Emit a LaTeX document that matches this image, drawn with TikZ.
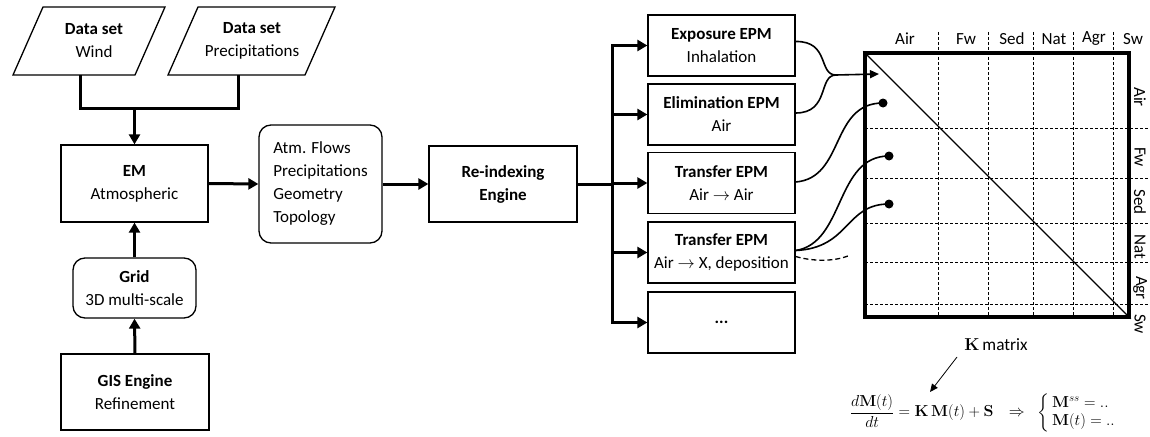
\documentclass[tikz,border=0pt]{standalone}
\usepackage{amsmath}
\usepackage[no-math]{fontspec}
\setmainfont{Carlito}
\usetikzlibrary{arrows.meta,calc}
\begin{document}
\begin{tikzpicture}[x=1pt,y=-1pt,
  every node/.style={font=\fontsize{17}{23}\selectfont, inner sep=0pt},
  box/.style={draw, line width=1.3pt, minimum width=147pt, minimum height=61pt, align=center},
  rbox/.style={box, rounded corners=12pt},
  flow/.style={line width=3pt, -{Triangle[length=10pt,width=11pt]}},
  bar/.style={line width=3pt},
  curv/.style={line width=1.6pt},
  gridline/.style={line width=0.6pt, dash pattern=on 3pt off 2pt},
  para/.style={line width=1.3pt, line join=miter},
]
\useasboundingbox (0,0) rectangle (1150,436);

% data sets
\node[align=center] (wind) at (94,41) {\textbf{Data set}\\Wind};
\draw[para] ($(wind.center)+(-81,34)$) -- ($(wind.center)+(41,34)$) -- ($(wind.center)+(71,-34)$) -- ($(wind.center)+(-51,-34)$) -- cycle;
\node[align=center] (prec) at (252,41) {\textbf{Data set}\\Precipitations};
\draw[para] ($(prec.center)+(-84,34)$) -- ($(prec.center)+(53,34)$) -- ($(prec.center)+(83,-34)$) -- ($(prec.center)+(-54,-34)$) -- cycle;

% left column
\node[box, minimum width=147pt, minimum height=77pt] (em) at (134.5,183.5) {\textbf{EM}\\Atmospheric};
\node[rbox, minimum width=123pt, minimum height=60pt] (grid) at (134.5,288) {\textbf{Grid}\\3D multi-scale};
\node[box, minimum width=148pt, minimum height=76pt] (gis) at (135,392) {\textbf{GIS Engine}\\Refinement};
\node[rbox, align=left, minimum width=123pt, minimum height=118pt] (atm) at (320.5,184) {Atm. Flows\\Precipitations\\Geometry\\Topology};
\node[box, minimum width=148pt, minimum height=76pt] (re) at (503,184) {\textbf{Re-indexing}\\\textbf{Engine}};

\coordinate (wb) at ($(wind.center)+(-14,34)$);
\coordinate (pb) at ($(prec.center)+(-14,34)$);
\coordinate (jn) at (em.north |- 0,108);
\draw[bar] (wb) -- (wb |- jn) -- (pb |- jn) -- (pb);
\draw[flow] (jn) -- (em.north);
\draw[flow] (gis.north) -- (grid.south);
\draw[flow] (grid.north) -- (em.south);
\draw[flow] (em.east) -- (atm.west);
\draw[flow] (atm.east) -- (re.west);

% EPM boxes
\node[box] (e1) at (721.5,45.5) {\textbf{Exposure EPM}\\Inhalation};
\node[box] (e2) at (721.5,114.5) {\textbf{Elimination EPM}\\Air};
\node[box] (e3) at (721.5,183) {\textbf{Transfer EPM}\\Air $\rightarrow$ Air};
\node[box] (e4) at (721.5,252.5) {\textbf{Transfer EPM}\\Air $\rightarrow$ X, deposition};
\node[box] (e5) at (721.5,322.5) {\textbf{...}};

\coordinate (tr) at (612,184);
\draw[bar] (re.east) -- (tr);
\draw[bar, line cap=rect] (tr |- e1.west) -- (tr |- e5.west);
\foreach \n in {e1,e2,e3,e4,e5} \draw[flow] (tr |- \n.west) -- (\n.west);

% matrix
\foreach \x in {938,988,1033,1073,1113} \draw[gridline] (\x,32) -- (\x,317);
\foreach \y in {128,178,223,262,304} \draw[gridline] (865,\y) -- (1150,\y);
\node[draw, line width=3.5pt, minimum width=264pt, minimum height=264pt] (K) at (997,185) {};
\draw[line width=1.2pt] (K.north west) -- (K.south east);
\foreach \t/\x [count=\i] in {Air/905,Fw/966,Sed/1012,Nat/1054,Agr/1094,Sw/1133}
  \node (c\i) at (\x,39) {\t};
\foreach \t/\y [count=\i] in {Air/97,Fw/157,Sed/202,Nat/247,Agr/288,Sw/324}
  \node[rotate=-90] (r\i) at (1140,\y) {\t};

% connectors to matrix
\coordinate (mg) at (836,75);
\coordinate (tip) at (879,74);
\coordinate (d1) at (883,103);
\coordinate (d2) at (889,156);
\coordinate (d3) at (889,204);
\coordinate (dend) at (848,256);
\draw[curv] ([yshift=4pt]e1.east) .. controls (830,41) and (818,75) .. (mg);
\draw[curv] ([yshift=1.5pt]e2.east) .. controls (830,113) and (818,75) .. (mg);
\draw[curv, -{Triangle[length=9pt,width=8pt]}] (mg) -- (tip);
\draw[curv] ([yshift=1pt]e3.east) .. controls (845,178) and (830,103) .. (d1);
\draw[curv] ([yshift=2pt]e4.east) .. controls (845,243) and (835,156) .. (d2);
\draw[curv] ([yshift=2pt]e4.east) .. controls (850,248) and (845,204) .. (d3);
\draw[line width=1.3pt, dash pattern=on 5pt off 3pt] ([yshift=-4pt]e4.east) .. controls (815,262) and (835,261) .. (dend);
\foreach \d in {d1,d2,d3} \fill (\d) circle (4.5pt);

% K matrix label and equation
\node (kl) at (996,345) {\fontsize{17.28}{22}\selectfont$\mathbf{K}$\,matrix};
\coordinate (ks) at (957,357);
\coordinate (kt) at (930,392);
\node[scale=0.92, transform shape] (eq) at (983,413) {\fontsize{17.28}{20}\selectfont $\dfrac{d\mathbf{M}(t)}{dt} = \mathbf{K}\,\mathbf{M}(t) + \mathbf{S} \hspace{12pt}\Rightarrow\hspace{9pt} \left\{\,\begin{array}{@{}l@{}}\mathbf{M}^{ss} = ..\\ \mathbf{M}(t) = ..\end{array}\right.$};
\draw[line width=0.8pt, -{Triangle[length=8pt,width=7pt]}] (ks) -- (kt);
\end{tikzpicture}
\end{document}
